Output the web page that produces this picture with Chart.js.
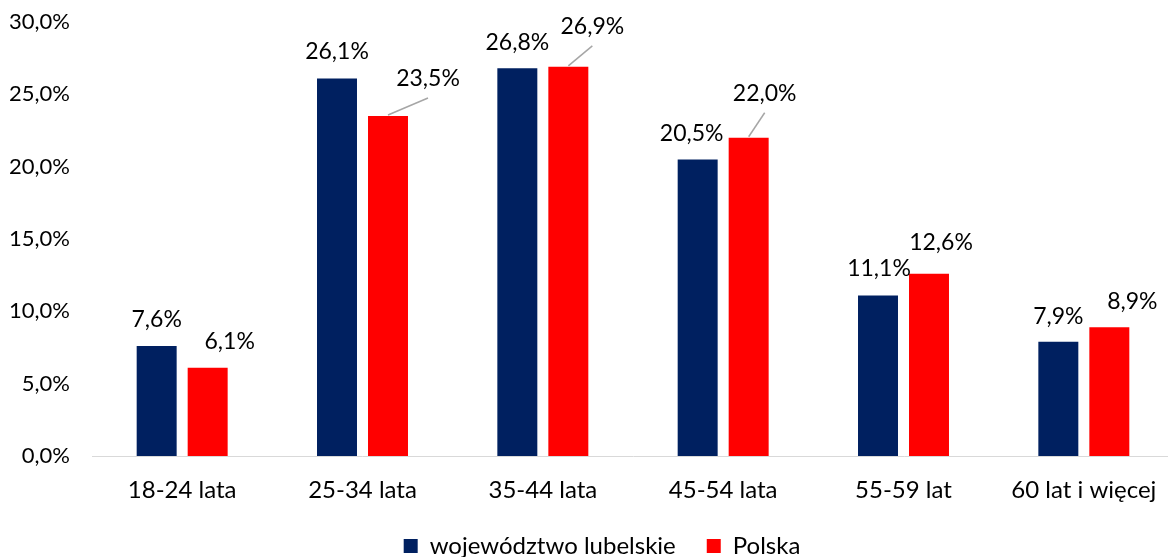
<!DOCTYPE html>
<html><head><meta charset="utf-8">
<script src="https://cdn.jsdelivr.net/npm/chart.js@4"></script>
<style>
html,body{margin:0;padding:0;background:#fff;overflow:hidden;}
#wrap{position:relative;width:1204px;height:568px;}
</style></head><body>
<div id="wrap"><canvas id="c"></canvas></div>
<script>
const categories = ['18-24 lata','25-34 lata','35-44 lata','45-54 lata','55-59 lat','60 lat i więcej'];
const seriesNames = ['województwo lubelskie','Polska'];
const lubelskie = [7.6, 26.1, 26.8, 20.5, 11.1, 7.9];
const polska = [6.1, 23.5, 26.9, 22.0, 12.6, 8.9];
const yTicks = [0, 5, 10, 15, 20, 25, 30];

// label placement tweaks (px) relative to default position above each bar
const lubelskieLabelShift = [[0,0],[0,-1],[0,0],[-6,0],[1,-1],[0,1]];
const polskaLabelShift = [[22,0],[40,-11],[24,-14],[16,-18],[12,-5],[23,0]];
const polskaLeader = [false,true,true,true,false,false];
const lubelskieLeader = [false,false,false,false,false,false];

const FONT = 'Lato';
const fmt = v => v.toFixed(1).replace('.', ',') + '%';
Chart.defaults.color = '#000';
Chart.defaults.font.family = FONT;
Chart.defaults.font.size = 22;

const valueLabels = {
  id: 'valueLabels',
  afterDatasetsDraw(chart) {
    const ctx = chart.ctx;
    ctx.save();
    ctx.font = '23px ' + FONT;
    ctx.textAlign = 'center';
    ctx.textBaseline = 'alphabetic';
    chart.data.datasets.forEach((ds, di) => {
      const meta = chart.getDatasetMeta(di);
      meta.data.forEach((bar, i) => {
        const [dx, dy] = ds.labelShift[i];
        const lx = bar.x + dx, ly = bar.y - 27 + dy;
        if (ds.leader[i]) {
          ctx.strokeStyle = '#A6A6A6';
          ctx.lineWidth = 1.5;
          ctx.beginPath();
          ctx.moveTo(bar.x, bar.y - 1);
          ctx.lineTo(lx, ly + 20);
          ctx.stroke();
        }
        ctx.fillStyle = '#000';
        ctx.fillText(fmt(ds.data[i]), lx, ly + 8.3);
      });
    });
    ctx.restore();
  }
};

const legendShift = {
  id: 'legendShift',
  beforeDraw(chart) {
    if (chart.legend) { chart.legend.left = 0; chart.legend.right = chart.width; }
  }
};

new Chart(document.getElementById('c'), {
  type: 'bar',
  data: {
    labels: categories,
    datasets: [
      { label: seriesNames[0], data: lubelskie, backgroundColor: '#002060', labelShift: lubelskieLabelShift, leader: lubelskieLeader },
      { label: seriesNames[1], data: polska, backgroundColor: '#FF0000', labelShift: polskaLabelShift, leader: polskaLeader }
    ]
  },
  options: {
    responsive: true,
    maintainAspectRatio: false,
    animation: false,
    datasets: { bar: { categoryPercentage: 0.5656, barPercentage: 0.784 } },
    layout: { padding: { top: 22, right: 30, left: 0, bottom: 0 } },
    plugins: {
      legend: {
        position: 'bottom',
        labels: { boxWidth: 14, boxHeight: 14, padding: 31, color: '#000', font: { size: 24, family: FONT } }
      },
      tooltip: { enabled: false }
    },
    scales: {
      x: {
        grid: { display: false, drawTicks: false },
        border: { display: true, color: '#D9D9D9', width: 1 },
        ticks: { padding: 20.8, color: '#000', font: { size: 24, family: FONT, lineHeight: 1.1 }, maxRotation: 0, autoSkip: false },
        afterFit(scale) { scale.height = 47; }
      },
      y: {
        min: 0, max: 30,
        grid: { display: false, drawTicks: false },
        border: { display: false },
        afterBuildTicks(scale) { scale.ticks = yTicks.map(v => ({ value: v })); },
        ticks: { padding: 22, color: '#000', font: { size: 22, family: FONT }, callback: v => fmt(v) },
        afterFit(scale) { scale.width = 92; scale.paddingTop = 0; scale.paddingBottom = 0; }
      }
    }
  },
  plugins: [valueLabels, legendShift]
});
</script>
</body></html>
